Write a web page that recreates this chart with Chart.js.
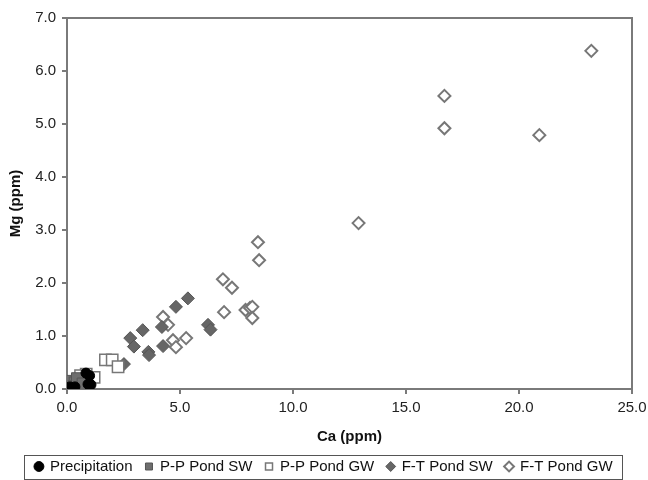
<!DOCTYPE html>
<html>
<head>
<meta charset="utf-8">
<script src="https://cdn.jsdelivr.net/npm/chart.js@4"></script>
<style>
  html, body { margin: 0; padding: 0; background: #fff; }
  #wrap { width: 648px; height: 480px; }
</style>
</head>
<body>
<div id="wrap"><canvas id="chart" width="648" height="480"></canvas></div>
<script>
// Ca / Mg readings per sample group (ppm)
const precipCa = [0.13, 0.35, 0.84, 1.0, 0.93, 1.06];
const precipMg = [0.04, 0.04, 0.30, 0.25, 0.09, 0.08];

const ppSwCa = [0.1, 0.2, 0.35, 0.5, 0.6, 0.3, 0.45, 0.7];
const ppSwMg = [0.1, 0.15, 0.12, 0.17, 0.14, 0.05, 0.2, 0.1];

const ppGwCa = [1.7, 2.0, 2.26, 0.85, 1.2, 0.6];
const ppGwMg = [0.55, 0.55, 0.42, 0.28, 0.22, 0.25];

const ftSwCa = [2.52, 2.8, 2.96, 3.35, 3.6, 3.63, 4.2, 4.25, 4.82, 5.35, 6.24, 6.35];
const ftSwMg = [0.47, 0.96, 0.80, 1.11, 0.70, 0.64, 1.17, 0.81, 1.55, 1.71, 1.21, 1.12];

const ftGwCa = [4.25, 4.47, 4.69, 4.82, 5.27, 6.9, 6.95, 7.3, 7.9, 8.1, 8.2, 8.2, 8.45, 8.5, 12.9, 16.7, 16.7, 20.9, 23.2];
const ftGwMg = [1.36, 1.21, 0.92, 0.79, 0.96, 2.07, 1.45, 1.91, 1.49, 1.53, 1.55, 1.34, 2.77, 2.43, 3.13, 5.53, 4.92, 4.79, 6.38];

const xTicks = [0, 5, 10, 15, 20, 25];
const yTicks = [0, 1, 2, 3, 4, 5, 6, 7];

const FONT = "'Liberation Sans', Arial, sans-serif";
const AXIS = '#7a7a7a';

function pairs(xs, ys) {
    return xs.map((x, i) => ({ x: x, y: ys[i] }));
}

// frame round the plot area and a box round the legend
const framePlugin = {
    id: 'frame',
    afterDraw(chart) {
        const ctx = chart.ctx;
        const a = chart.chartArea;
        ctx.save();
        ctx.strokeStyle = AXIS;
        ctx.lineWidth = 2;
        ctx.beginPath();
        ctx.moveTo(a.left, a.top);
        ctx.lineTo(a.right, a.top);
        ctx.lineTo(a.right, a.bottom);
        ctx.stroke();

        const lg = chart.legend;
        if (lg && lg.legendHitBoxes.length) {
            const boxes = lg.legendHitBoxes;
            const l = Math.min(...boxes.map(b => b.left)) - 11;
            const r = Math.max(...boxes.map(b => b.left + b.width)) + 10;
            const t = boxes[0].top - 4;
            const b = boxes[0].top + boxes[0].height + 5;
            ctx.strokeStyle = '#555';
            ctx.lineWidth = 1;
            ctx.strokeRect(Math.round(l) + 0.5, Math.round(t) + 0.5, Math.round(r - l), Math.round(b - t));
        }
        ctx.restore();
    }
};

const ctx = document.getElementById('chart').getContext('2d');
new Chart(ctx, {
    type: 'scatter',
    data: {
        datasets: [
            {
                label: 'Precipitation',
                data: pairs(precipCa, precipMg),
                pointStyle: 'circle',
                pointRadius: 5,
                backgroundColor: '#000',
                borderColor: '#000',
                borderWidth: 1
            },
            {
                label: 'P-P Pond SW',
                data: pairs(ppSwCa, ppSwMg),
                pointStyle: 'rect',
                pointRadius: 8,
                backgroundColor: '#6e6e6e',
                borderColor: '#555',
                borderWidth: 1
            },
            {
                label: 'P-P Pond GW',
                data: pairs(ppGwCa, ppGwMg),
                pointStyle: 'rect',
                pointRadius: 8,
                backgroundColor: '#fff',
                borderColor: '#777',
                borderWidth: 1.5
            },
            {
                label: 'F-T Pond SW',
                data: pairs(ftSwCa, ftSwMg),
                pointStyle: 'rectRot',
                pointRadius: 6.5,
                backgroundColor: '#666',
                borderColor: '#555',
                borderWidth: 1
            },
            {
                label: 'F-T Pond GW',
                data: pairs(ftGwCa, ftGwMg),
                pointStyle: 'rectRot',
                pointRadius: 6,
                backgroundColor: '#fff',
                borderColor: '#777',
                borderWidth: 2
            }
        ]
    },
    options: {
        responsive: false,
        animation: false,
        layout: { padding: { left: 0, right: 0, top: 18, bottom: 0 } },
        plugins: {
            tooltip: { enabled: false },
            legend: {
                position: 'bottom',
                maxHeight: 34,
                labels: {
                    usePointStyle: true,
                    boxWidth: 7,
                    boxHeight: 7,
                    padding: 13,
                    color: '#111',
                    font: { family: FONT, size: 15 }
                }
            }
        },
        scales: {
            x: {
                type: 'linear',
                min: 0,
                max: 25,
                afterBuildTicks: axis => { axis.ticks = xTicks.map(v => ({ value: v })); },
                afterFit: axis => {
                    axis.height = 57;
                    axis.paddingRight = 16;
                },
                grid: { drawOnChartArea: false, drawTicks: true, tickLength: 5, color: AXIS, lineWidth: 2 },
                border: { display: true, color: AXIS, width: 2 },
                ticks: {
                    color: '#222',
                    padding: 5,
                    font: { family: FONT, size: 15 },
                    callback: v => v.toFixed(1)
                },
                title: {
                    display: true,
                    text: 'Ca (ppm)',
                    color: '#111',
                    padding: { top: 0, bottom: 0 },
                    font: { family: FONT, size: 15, weight: 'bold' }
                }
            },
            y: {
                type: 'linear',
                min: 0,
                max: 7,
                afterBuildTicks: axis => { axis.ticks = yTicks.map(v => ({ value: v })); },
                afterFit: axis => { axis.width = 67; },
                grid: { drawOnChartArea: false, drawTicks: true, tickLength: 5, color: AXIS, lineWidth: 2 },
                border: { display: true, color: AXIS, width: 2 },
                ticks: {
                    color: '#222',
                    padding: 6,
                    font: { family: FONT, size: 15 },
                    callback: v => v.toFixed(1)
                },
                title: {
                    display: true,
                    text: 'Mg (ppm)',
                    color: '#111',
                    padding: { top: 7, bottom: 0 },
                    font: { family: FONT, size: 15, weight: 'bold' }
                }
            }
        }
    },
    plugins: [framePlugin]
});
</script>
</body>
</html>
